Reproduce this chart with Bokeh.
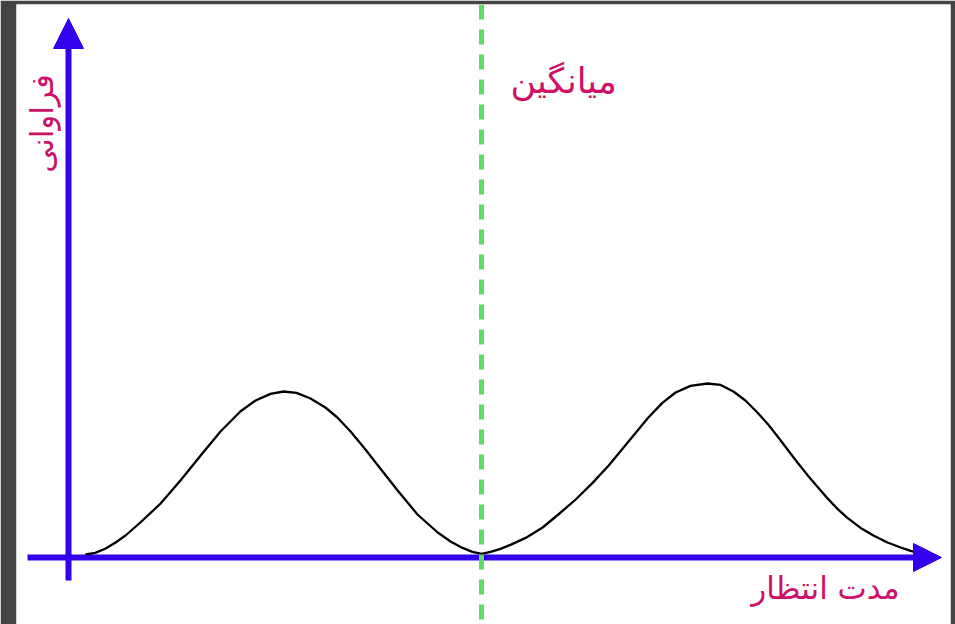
import math
from bokeh.plotting import figure
from bokeh.models import Range1d, Span, Arrow, NormalHead, Label
from bokeh.embed import file_html
from bokeh.resources import INLINE

# ---- data ----
wait_time = [4.1, 6.5, 9.0, 11.4, 13.8, 17.4, 22.3, 27.1, 32.0, 36.8, 41.6, 45.3, 48.9,
             52.1, 55.2, 58.6, 62.2, 65.1, 68.3, 71.9, 75.5, 79.7, 84.5, 89.4, 92.5,
             95.4, 97.8, 100.0,
             102.2, 104.6, 107.0, 110.7, 114.8, 118.6, 122.8, 126.9, 130.8, 134.1,
             137.3, 140.4, 143.8, 147.0, 150.6, 154.7, 157.9, 161.0, 163.9, 166.8,
             169.3, 171.7, 174.1, 176.5, 178.9, 181.4, 183.8, 186.2, 188.6, 191.8,
             194.9, 198.3, 201.5, 203.9, 205.8]
frequency = [1.5, 2.3, 4.5, 7.5, 11.0, 17.5, 27.0, 38.5, 51.0, 63.0, 73.0, 78.5, 81.8,
             83.0, 82.3, 79.5, 75.0, 70.0, 63.0, 54.0, 44.5, 33.5, 21.5, 12.5, 8.0,
             4.8, 2.8, 1.8,
             2.8, 4.3, 6.3, 9.8, 15.0, 21.5, 29.0, 37.3, 46.0, 54.3,
             62.3, 70.0, 77.3, 82.5, 85.8, 87.0, 86.3, 83.0, 78.5, 72.5,
             66.8, 60.5, 54.0, 47.5, 41.3, 35.3, 29.5, 24.3, 19.8, 14.8,
             11.0, 7.5, 5.0, 3.3, 2.3]
mean_time = 100.0

label_mean = "میانگین"
label_x = "مدت انتظار"
label_y = "فراوانی"

# ---- layout (pixel geometry of the picture) ----
W, H = 955, 624
LEFT, TOP, RIGHT = 16, 4, 5
PX_PER_X = 4.13
PX_PER_Y = 2.0
OX, OY = 68, 557           # where the axes cross, in picture pixels


def dx(px):
    return (px - OX) / PX_PER_X


def dy(py):
    return (OY - py) / PX_PER_Y


x_range = Range1d(dx(LEFT), dx(W - RIGHT))
y_range = Range1d(dy(H), dy(TOP))

p = figure(width=W, height=H, x_range=x_range, y_range=y_range,
           output_backend="svg", toolbar_location=None,
           min_border_left=LEFT, min_border_right=RIGHT, min_border_top=TOP,
           min_border_bottom=0,
           border_fill_color="#444444", background_fill_color="white",
           outline_line_color=None)
p.xaxis.visible = False
p.yaxis.visible = False
p.xgrid.visible = False
p.ygrid.visible = False

AX = "#3300EE"
PINK = "#CC1166"
FONT = "DejaVu Sans"

# axes shafts + arrow heads
x_tip = dx(941)
y_tip = dy(18)
p.segment(x0=[dx(27)], y0=[0], x1=[dx(921)], y1=[0], line_color=AX, line_width=6)
p.segment(x0=[0], y0=[dy(580)], x1=[0], y1=[dy(40)], line_color=AX, line_width=6)
p.add_layout(Arrow(end=NormalHead(size=28, fill_color=AX, line_color=AX, line_width=1),
                   x_start=dx(900), y_start=0, x_end=x_tip, y_end=0, line_alpha=0))
p.add_layout(Arrow(end=NormalHead(size=30, fill_color=AX, line_color=AX, line_width=1),
                   x_start=0, y_start=dy(60), x_end=0, y_end=y_tip, line_alpha=0))

# curve
p.line(wait_time, frequency, line_color="black", line_width=2.3, line_join="round")

# mean line
p.add_layout(Span(location=mean_time, dimension="height", line_color="#5FDB6A",
                  line_width=5, line_dash="15 10"))

# labels
p.add_layout(Label(x=dx(563), y=dy(80), text=label_mean,
                   text_align="center", text_baseline="middle", text_color=PINK,
                   text_font=FONT, text_font_size="35px"))
p.add_layout(Label(x=dx(825), y=dy(587), text=label_x,
                   text_align="center", text_baseline="middle", text_color=PINK,
                   text_font=FONT, text_font_size="31px"))
p.add_layout(Label(x=dx(41), y=dy(123), text=label_y,
                   angle=math.pi / 2, text_align="center", text_baseline="middle",
                   text_color=PINK, text_font=FONT, text_font_size="31px"))

open("out.html", "w").write(file_html(p, INLINE))
